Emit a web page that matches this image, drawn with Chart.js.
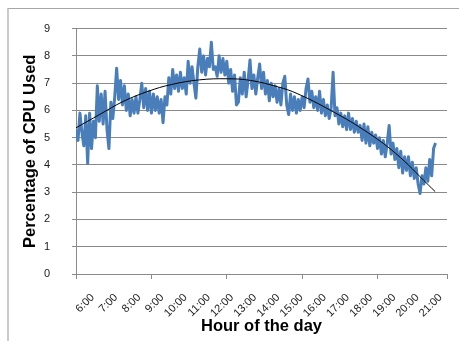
<!DOCTYPE html>
<html>
<head>
<meta charset="utf-8">
<title>CPU usage</title>
<script src="https://cdn.jsdelivr.net/npm/chart.js@4.4.1/dist/chart.umd.min.js"></script>
<style>
  html, body { margin: 0; padding: 0; background: #fff; }
  #wrap { position: relative; width: 459px; height: 341px; overflow: hidden; }
  #frame {
    position: absolute; left: 7px; top: 8px; width: 470px; height: 350px;
    border-left: 2px solid #cbcbcb; border-top: 1px solid #a6a6a6;
    pointer-events: none;
  }
</style>
</head>
<body>
<div id="wrap">
  <canvas id="myChart" width="459" height="341"></canvas>
  <div id="frame"></div>
</div>
<script>
// samples every 5 minutes, starting 5:17
const sampleStart = 5 + 17 / 60;
const sampleStep = 5 / 60;

// percentage of CPU used, one row per hour of samples
const cpuUsed = [
  5.3, 4.9, 5.9, 5.2, 4.7, 5.8, 4.05, 5.9, 4.6, 5.6, 5.0, 6.9,
  5.6, 6.6, 5.5, 6.7, 5.3, 4.6, 6.3, 5.7, 6.5, 7.55, 6.4, 7.1,
  6.2, 6.9, 6.0, 6.6, 5.8, 6.4, 5.9, 6.5, 5.9, 6.4, 7.0, 6.1,
  6.8, 6.0, 6.7, 5.9, 6.6, 6.0, 6.5, 5.9, 6.4, 5.55, 6.5, 6.2,
  7.2, 6.6, 7.5, 6.8, 7.3, 6.7, 7.4, 6.8, 7.2, 6.6, 7.8, 7.0,
  7.6, 7.0, 6.45, 7.6, 8.25, 7.4, 8.0, 7.3, 7.9, 7.6, 8.5, 7.5,
  7.6, 7.25, 8.0, 7.4, 7.9, 7.3, 7.8, 7.0, 7.5, 6.7, 7.3, 6.2,
  6.3, 7.2, 6.6, 7.4, 6.5, 7.1, 7.85, 6.8, 7.3, 6.6, 7.2, 7.7,
  6.8, 7.4, 6.6, 7.1, 6.35, 7.0, 6.5, 6.9, 6.3, 6.8, 6.2, 7.0,
  7.25, 6.2, 5.85, 6.6, 6.0, 6.5, 5.9, 6.4, 6.0, 6.5, 6.1, 6.8,
  7.15, 6.3, 6.7, 6.1, 6.5, 6.0, 6.7, 5.9, 6.4, 5.8, 6.2, 5.7,
  6.1, 7.4, 5.8, 6.1, 5.5, 5.9, 5.4, 5.8, 5.3, 5.9, 5.3, 5.7,
  5.2, 5.6, 5.2, 5.45, 4.9, 5.5, 4.8, 5.4, 4.7, 5.2, 4.8, 5.1,
  4.6, 5.0, 4.4, 4.9, 4.3, 4.8, 5.45, 4.4, 4.8, 4.2, 4.6, 3.9,
  4.5, 3.7, 4.3, 3.8, 4.3, 3.6, 4.1, 3.5, 3.9, 3.3, 2.95, 3.6,
  3.3, 3.9, 3.4, 4.2, 3.6, 4.6, 4.8
];

// polynomial trendline
const trendHours  = [5.28, 6.30, 7.32, 8.39, 9.40, 10.60, 11.80, 12.80, 14.00, 14.81, 16.22, 17.66, 19.07, 20.47, 20.77];
const trendValues = [5.36, 5.85, 6.33, 6.70, 6.95, 7.12, 7.16, 7.10, 6.86, 6.62, 6.02, 5.30, 4.42, 3.27, 3.02];

const hourLabels = [6, 7, 8, 9, 10, 11, 12, 13, 14, 15, 16, 17, 18, 19, 20, 21];
const axisTickMarks = [5.28, 8.51, 11.75, 15.02, 18.26, 21.28];
const yTicks = [0, 1, 2, 3, 4, 5, 6, 7, 8, 9];

const cpuPoints = cpuUsed.map((v, i) => ({ x: sampleStart + i * sampleStep, y: v }));
const trendPoints = trendHours.map((h, i) => ({ x: h, y: trendValues[i] }));

const gridGray = '#8a8a8a';
const tickFont = { family: 'Liberation Sans, Arial, sans-serif', size: 11 };
const titleFont = { family: 'Liberation Sans, Arial, sans-serif', size: 16.5, weight: 'bold', lineHeight: 1.2 };

// Excel puts its category tick marks on its own interval, not on the labels
const tickMarksPlugin = {
  id: 'tickMarks',
  afterDraw(chart) {
    const xs = chart.scales.x;
    const ctx = chart.ctx;
    ctx.save();
    ctx.strokeStyle = gridGray;
    ctx.lineWidth = 1;
    ctx.beginPath();
    axisTickMarks.forEach(v => {
      const px = Math.round(xs.getPixelForValue(v)) + 0.5;
      ctx.moveTo(px, xs.top);
      ctx.lineTo(px, xs.top + 5);
    });
    ctx.stroke();
    ctx.restore();
  }
};

const ctx = document.getElementById('myChart').getContext('2d');
new Chart(ctx, {
  type: 'line',
  data: {
    datasets: [
      {
        label: 'CPU',
        data: cpuPoints,
        borderColor: '#4a7ebb',
        borderWidth: 3,
        borderJoinStyle: 'round',
        pointRadius: 0,
        tension: 0,
        order: 1
      },
      {
        label: 'Trend',
        data: trendPoints,
        borderColor: '#000',
        borderWidth: 1,
        pointRadius: 0,
        tension: 0.4,
        order: 0
      }
    ]
  },
  options: {
    responsive: false,
    animation: false,
    layout: { padding: { left: 0, top: 24, right: 7, bottom: 0 } },
    plugins: {
      legend: { display: false },
      tooltip: { enabled: false }
    },
    scales: {
      x: {
        type: 'linear',
        min: 5.28,
        max: 21.28,
        afterBuildTicks: s => { s.ticks = hourLabels.map(v => ({ value: v })); },
        afterFit: s => { s.height = 67; },
        grid: { display: false },
        border: { color: gridGray, width: 1 },
        ticks: {
          autoSkip: false,
          minRotation: 45,
          maxRotation: 45,
          padding: 9,
          color: '#1a1a1a',
          font: tickFont,
          callback: v => v + ':00'
        },
        title: {
          display: true,
          text: 'Hour of the day',
          color: '#000',
          font: titleFont,
          padding: { top: 0, bottom: 5 }
        }
      },
      y: {
        min: 0,
        max: 9,
        afterBuildTicks: s => { s.ticks = yTicks.map(v => ({ value: v })); },
        afterFit: s => { s.width = 76; },
        grid: { color: gridGray, tickLength: 4, lineWidth: 1 },
        border: { color: gridGray, width: 1 },
        ticks: {
          padding: 22,
          color: '#1a1a1a',
          font: tickFont
        },
        title: {
          display: true,
          text: 'Percentage of CPU Used',
          color: '#000',
          font: titleFont,
          padding: { top: 21, bottom: 0 }
        }
      }
    }
  },
  plugins: [tickMarksPlugin]
});
</script>
</body>
</html>
